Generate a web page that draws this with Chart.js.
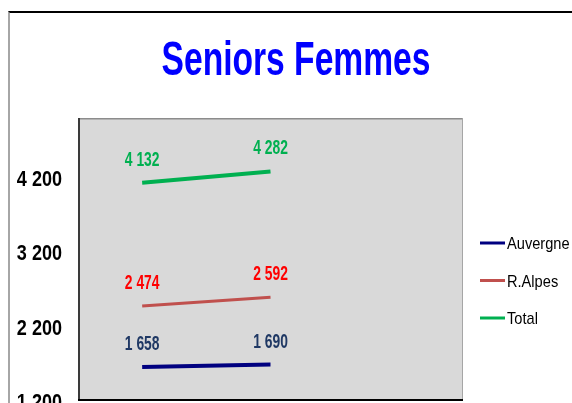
<!DOCTYPE html>
<html>
<head>
<meta charset="utf-8">
<title>Seniors Femmes</title>
<script src="https://cdn.jsdelivr.net/npm/chart.js@4.4.1/dist/chart.umd.min.js"></script>
<style>
  html, body { margin: 0; padding: 0; background: #fff; overflow: hidden; }
  #wrap { position: relative; width: 572px; height: 403px; overflow: hidden; }
  #frame { position: absolute; left: 8px; top: 11px; right: 0; bottom: 0;
           border-top: 2px solid #000; border-left: 2px solid #a6a6a6; }
  #chartBox { position: absolute; left: 0; top: 0; width: 572px; height: 420px; }
</style>
</head>
<body>
<div id="wrap">
  <div id="frame"></div>
  <div id="chartBox"><canvas id="seniorsChart"></canvas></div>
</div>
<script>
// --- data ---
const titleText = 'Seniors Femmes';
const categories = ['1', '2', '3'];
const seriesNames = ['Auvergne', 'R.Alpes', 'Total'];
const auvergneValues = [1658, 1690, null];
const rAlpesValues = [2474, 2592, null];
const totalValues = [4132, 4282, null];
const yTicks = [1200, 2200, 3200, 4200];

// --- styles ---
const lineColors = ['#000080', '#c0504d', '#00b050'];
const labelColors = ['#1f3864', '#ff0000', '#00b050'];
const lineWidths = [4, 3, 4];

function formatNumber(v) {
    return String(v).replace(/\B(?=(\d{3})+(?!\d))/g, ' ');
}

// draws text squeezed horizontally (the original uses a condensed face)
function drawCondensed(ctx, text, x, y, font, color, scaleX, align) {
    ctx.save();
    ctx.translate(x, y);
    ctx.scale(scaleX, 1);
    ctx.font = font;
    ctx.fillStyle = color;
    ctx.textAlign = align;
    ctx.textBaseline = 'alphabetic';
    ctx.fillText(text, 0, 0);
    ctx.restore();
}

const decorPlugin = {
    id: 'decor',
    beforeDatasetsDraw(chart) {
        const { ctx, chartArea: a } = chart;
        ctx.save();
        ctx.fillStyle = '#d9d9d9';
        ctx.fillRect(a.left, a.top, a.right - a.left, a.bottom - a.top);
        // top + right edges
        ctx.strokeStyle = '#8c8c8c';
        ctx.lineWidth = 1.5;
        ctx.beginPath();
        ctx.moveTo(a.left, a.top + 0.75);
        ctx.lineTo(a.right - 0.5, a.top + 0.75);
        ctx.stroke();
        ctx.strokeStyle = '#a6a6a6';
        ctx.lineWidth = 1;
        ctx.beginPath();
        ctx.moveTo(a.right - 0.5, a.top);
        ctx.lineTo(a.right - 0.5, a.bottom);
        ctx.stroke();
        // left + bottom edges
        ctx.strokeStyle = '#3a3a3a';
        ctx.lineWidth = 2;
        ctx.beginPath();
        ctx.moveTo(a.left + 1, a.top);
        ctx.lineTo(a.left + 1, a.bottom);
        ctx.stroke();
        ctx.strokeStyle = '#000';
        ctx.beginPath();
        ctx.moveTo(a.left, a.bottom - 1);
        ctx.lineTo(a.right, a.bottom - 1);
        ctx.stroke();
        ctx.restore();

        // y tick labels, placed with the y scale
        const yScale = chart.scales.y;
        yTicks.forEach(v => {
            drawCondensed(ctx, formatNumber(v), 62, yScale.getPixelForValue(v) + 8,
                'bold 22px "Liberation Sans", Arial, sans-serif', '#000', 0.82, 'right');
        });
    },
    afterDatasetsDraw(chart) {
        const ctx = chart.ctx;
        // value labels above the points
        chart.data.datasets.forEach((ds, i) => {
            const meta = chart.getDatasetMeta(i);
            meta.data.forEach((pt, j) => {
                const v = ds.data[j];
                if (v == null) return;
                drawCondensed(ctx, formatNumber(v), pt.x, pt.y - 17,
                    'bold 21px "Liberation Sans", Arial, sans-serif', labelColors[i], 0.66, 'center');
            });
        });
    },
    afterDraw(chart) {
        const ctx = chart.ctx;
        // title
        drawCondensed(ctx, titleText, 296, 75,
            'bold 48px "Liberation Sans", Arial, sans-serif', '#0000ff', 0.70, 'center');
        // legend
        chart.data.datasets.forEach((ds, i) => {
            const y = 243 + i * 37.5;
            ctx.save();
            ctx.strokeStyle = lineColors[i];
            ctx.lineWidth = 3;
            ctx.beginPath();
            ctx.moveTo(480, y);
            ctx.lineTo(505, y);
            ctx.stroke();
            ctx.restore();
            drawCondensed(ctx, ds.label, 507, y + 6,
                '17px "Liberation Sans", Arial, sans-serif', '#000', 0.86, 'left');
        });
    }
};

document.addEventListener('DOMContentLoaded', function () {
    const ctx = document.getElementById('seniorsChart').getContext('2d');
    const seriesValues = [auvergneValues, rAlpesValues, totalValues];

    new Chart(ctx, {
        type: 'line',
        data: {
            labels: categories,
            datasets: seriesNames.map((name, i) => ({
                label: name,
                data: seriesValues[i],
                borderColor: lineColors[i],
                backgroundColor: lineColors[i],
                borderWidth: lineWidths[i],
                pointRadius: 0,
                tension: 0
            }))
        },
        options: {
            responsive: true,
            maintainAspectRatio: false,
            animation: false,
            layout: { padding: { left: 78, top: 118, right: 109, bottom: 19 } },
            plugins: {
                legend: { display: false },
                title: { display: false },
                tooltip: { enabled: false }
            },
            scales: {
                x: { type: 'category', display: false, offset: true },
                y: { display: false, min: 1200, max: 5000 }
            }
        },
        plugins: [decorPlugin]
    });
});
</script>
</body>
</html>
